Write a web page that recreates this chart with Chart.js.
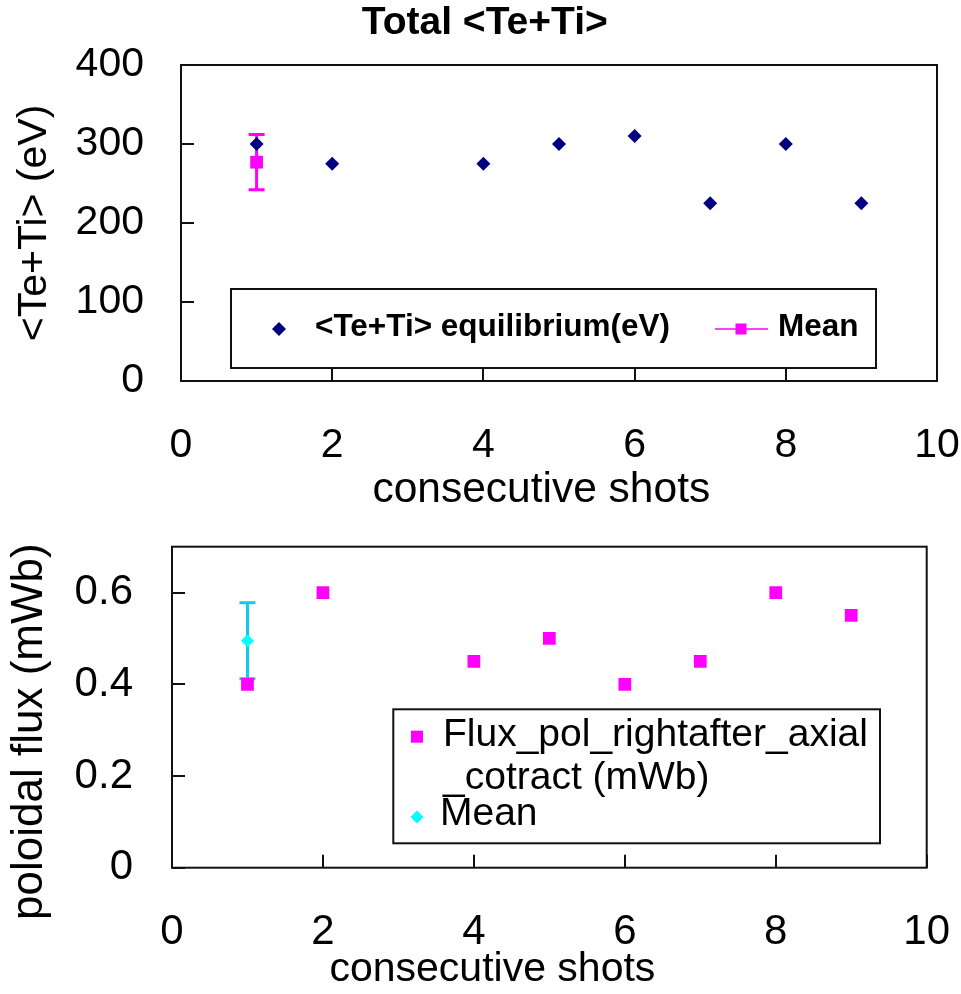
<!DOCTYPE html>
<html><head><meta charset="utf-8">
<script src="https://cdn.jsdelivr.net/npm/chart.js@4/dist/chart.umd.min.js"></script>
<style>
html,body{margin:0;padding:0;background:#fff;}
#wrap{position:relative;width:961px;height:994px;overflow:hidden;background:#fff;}
#c1{position:absolute;left:0;top:0;}
#c2{position:absolute;left:0;top:500px;}
</style></head><body>
<div id="wrap"><canvas id="c1" width="961" height="540"></canvas><canvas id="c2" width="961" height="494"></canvas></div>
<script>
// ---- data ----
const shots = [1, 2, 4, 5, 6, 7, 8, 9];
const tempValues = [300, 275, 275, 300, 310, 225, 300, 225];
const tempMeanShot = [1];
const tempMean = [277];
const tempMeanErr = [35];
const fluxValues = [0.40, 0.60, 0.45, 0.50, 0.40, 0.45, 0.60, 0.55];
const fluxMeanShot = [1];
const fluxMean = [0.495];
const fluxMeanErr = [0.083];
const xTicks = [0, 2, 4, 6, 8, 10];
const tempTicks = [0, 100, 200, 300, 400];
const fluxTicks = [0, 0.2, 0.4, 0.6];

const F = "'Liberation Sans', Arial, Helvetica, sans-serif";

const framePlugin = {
  id: 'frameTicks',
  beforeDatasetsDraw(chart, args, opts) {
    const ctx = chart.ctx, a = chart.chartArea;
    const xs = chart.scales.x, ys = chart.scales.y;
    ctx.save();
    ctx.strokeStyle = '#111';
    ctx.lineWidth = 2;
    ctx.strokeRect(a.left, a.top, a.right - a.left, a.bottom - a.top);
    const L = opts.len || 13;
    ctx.beginPath();
    ys.ticks.forEach(t => { const p = Math.round(ys.getPixelForValue(t.value)); ctx.moveTo(a.left, p); ctx.lineTo(a.left + L, p); });
    xs.ticks.forEach(t => { const p = Math.round(xs.getPixelForValue(t.value)); ctx.moveTo(p, a.bottom); ctx.lineTo(p, a.bottom - L); });
    ctx.stroke();
    // error bars
    chart.data.datasets.forEach(ds => {
      if (!ds.err) return;
      ctx.strokeStyle = ds.errColor;
      ctx.lineWidth = 3;
      ds.data.forEach((pt, i) => {
        const px = xs.getPixelForValue(pt.x);
        const pT = ys.getPixelForValue(pt.y + ds.err[i]);
        const pB = ys.getPixelForValue(pt.y - ds.err[i]);
        ctx.beginPath();
        ctx.moveTo(px, pT); ctx.lineTo(px, pB);
        ctx.moveTo(px - 8, pT); ctx.lineTo(px + 8, pT);
        ctx.moveTo(px - 8, pB); ctx.lineTo(px + 8, pB);
        ctx.stroke();
      });
    });
    ctx.restore();
  },
  afterDraw(chart, args, opts) {
    const lg = opts.legend;
    if (!lg) return;
    const ctx = chart.ctx;
    ctx.save();
    ctx.fillStyle = '#fff';
    ctx.fillRect(lg.box[0], lg.box[1], lg.box[2] - lg.box[0], lg.box[3] - lg.box[1]);
    ctx.strokeStyle = '#111';
    ctx.lineWidth = 2;
    ctx.strokeRect(lg.box[0], lg.box[1], lg.box[2] - lg.box[0], lg.box[3] - lg.box[1]);
    lg.items.forEach(it => {
      if (it.line) {
        ctx.strokeStyle = it.color; ctx.lineWidth = 1.5;
        ctx.beginPath(); ctx.moveTo(it.line[0], it.my); ctx.lineTo(it.line[1], it.my); ctx.stroke();
      }
      if (it.style) {
        ctx.fillStyle = it.color;
        Chart.helpers.drawPoint(ctx, {pointStyle: it.style, radius: it.r, rotation: 0, borderWidth: 0}, it.mx, it.my);
      }
      ctx.fillStyle = '#000';
      ctx.font = it.font;
      ctx.textBaseline = 'middle';
      ctx.textAlign = 'left';
      it.lines.forEach((s, k) => ctx.fillText(s, it.tx, it.ty[k]));
    });
    ctx.restore();
  }
};

function tickFont(size) { return {family: F, size: size}; }
// invisible grid whose tick length only serves as label offset
function offsetGrid(len) { return {display: true, drawOnChartArea: false, drawTicks: true, tickLength: len, color: 'rgba(0,0,0,0)'}; }

// ---- top chart ----
new Chart(document.getElementById('c1'), {
  type: 'scatter',
  data: {
    datasets: [
      {label: '<Te+Ti> equilibrium(eV)', data: shots.map((s, i) => ({x: s, y: tempValues[i]})),
       pointStyle: 'rectRot', pointRadius: 7, backgroundColor: '#000080', borderColor: '#000080', borderWidth: 0},
      {label: 'Mean', data: tempMeanShot.map((s, i) => ({x: s, y: tempMean[i]})), err: tempMeanErr, errColor: '#FF00FF',
       showLine: true, pointStyle: 'rect', pointRadius: 9, backgroundColor: '#FF00FF', borderColor: '#FF00FF', borderWidth: 0}
    ]
  },
  options: {
    responsive: false, animation: false, events: [],
    layout: {padding: {left: 0, right: 24, top: 0, bottom: 0}},
    plugins: {
      legend: {display: false}, tooltip: {enabled: false},
      title: {display: true, text: '   Total <Te+Ti>', color: '#000', font: {family: F, size: 39, weight: 'bold'}, padding: {top: 0, bottom: 18.2}},
      frameTicks: {len: 13, legend: {
        box: [231, 289, 876, 368],
        items: [
          {style: 'rectRot', r: 7, color: '#000080', mx: 279, my: 329, font: 'bold 31.5px ' + F, tx: 315, lines: ['<Te+Ti> equilibrium(eV)'], ty: [327]},
          {style: 'rect', r: 7.8, color: '#FF00FF', line: [715, 768], mx: 741, my: 329, font: 'bold 31.5px ' + F, tx: 778, lines: ['Mean'], ty: [327]}
        ]}}
    },
    scales: {
      x: {type: 'linear', position: 'bottom', min: 0, max: 10,
        afterBuildTicks: s => { s.ticks = xTicks.map(v => ({value: v})); },
        afterFit: s => { s.height = 159; },
        grid: offsetGrid(40), border: {display: false},
        ticks: {font: tickFont(41), color: '#000', padding: 0, maxRotation: 0, autoSkip: false, callback: v => String(v)},
        title: {display: true, text: 'consecutive shots   ', color: '#000', font: {family: F, size: 42.5}, padding: {top: 0, bottom: 24.2}}},
      y: {type: 'linear', position: 'left', min: 0, max: 400,
        afterBuildTicks: s => { s.ticks = tempTicks.map(v => ({value: v})); },
        afterFit: s => { s.width = 181; },
        grid: offsetGrid(37), border: {display: false},
        ticks: {font: tickFont(41), color: '#000', padding: 0, callback: v => String(v)},
        title: {display: true, text: '<Te+Ti> (eV)', color: '#000', font: {family: F, size: 41}, padding: {top: 10, bottom: 0}}}
    }
  },
  plugins: [framePlugin]
});

// ---- bottom chart ----
new Chart(document.getElementById('c2'), {
  type: 'scatter',
  data: {
    datasets: [
      {label: 'Flux_pol_rightafter_axial_cotract (mWb)', data: shots.map((s, i) => ({x: s, y: fluxValues[i]})),
       pointStyle: 'rect', pointRadius: 9, backgroundColor: '#FF00FF', borderColor: '#FF00FF', borderWidth: 0},
      {label: 'Mean', data: fluxMeanShot.map((s, i) => ({x: s, y: fluxMean[i]})), err: fluxMeanErr, errColor: '#10C8F4',
       pointStyle: 'rectRot', pointRadius: 6.5, backgroundColor: '#00FFFF', borderColor: '#00FFFF', borderWidth: 0}
    ]
  },
  options: {
    responsive: false, animation: false, events: [],
    layout: {padding: {left: 0, right: 34.3, top: 46.7, bottom: 0}},
    plugins: {
      legend: {display: false}, tooltip: {enabled: false},
      frameTicks: {len: 13, legend: {
        box: [393.3, 209.3, 880, 343.3],
        items: [
          {style: 'rect', r: 8.5, color: '#FF00FF', mx: 417, my: 236.7, font: '39px ' + F, tx: 443, lines: ['Flux_pol_rightafter_axial', '_cotract (mWb)'], ty: [235, 278.5]},
          {style: 'rectRot', r: 6.5, color: '#00FFFF', mx: 417, my: 317, font: '39px ' + F, tx: 440, lines: ['Mean'], ty: [314.5]}
        ]}}
    },
    scales: {
      x: {type: 'linear', position: 'bottom', min: 0, max: 10,
        afterBuildTicks: s => { s.ticks = xTicks.map(v => ({value: v})); },
        afterFit: s => { s.height = 126.3; },
        grid: offsetGrid(39.6), border: {display: false},
        ticks: {font: tickFont(42), color: '#000', padding: 0, maxRotation: 0, autoSkip: false, callback: v => String(v)},
        title: {display: true, text: 'consecutive shots          ', color: '#000', font: {family: F, size: 41}, padding: {top: 0, bottom: 0}}},
      y: {type: 'linear', position: 'left', min: 0, max: 0.7,
        afterBuildTicks: s => { s.ticks = fluxTicks.map(v => ({value: v})); },
        afterFit: s => { s.width = 172; },
        grid: offsetGrid(39), border: {display: false},
        ticks: {font: tickFont(42), color: '#000', padding: 0, callback: v => (v === 0 ? '0' : v.toFixed(1))},
        title: {display: true, text: 'poloidal flux (mWb)    ', color: '#000', font: {family: F, size: 44}, padding: {top: 3.4, bottom: 0}}}
    }
  },
  plugins: [framePlugin]
});
</script>
</body></html>
